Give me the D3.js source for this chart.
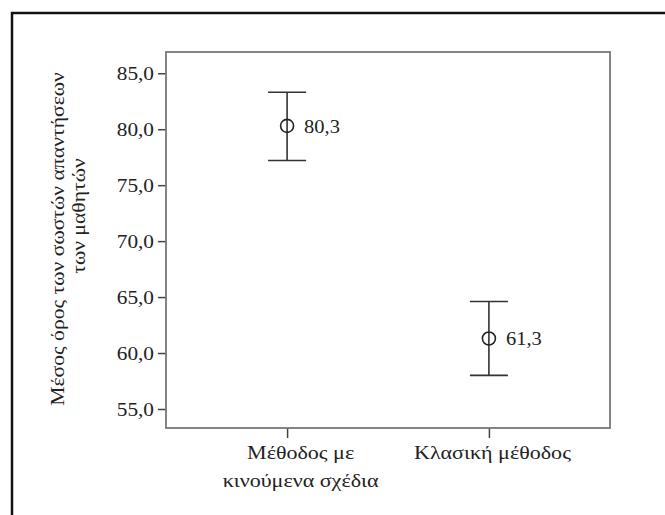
<!DOCTYPE html>
<html>
<head>
<meta charset="utf-8">
<script src="https://cdn.jsdelivr.net/npm/d3@7"></script>
<style>
  body { margin: 0; background: #fff; }
</style>
</head>
<body>
<svg id="chart" width="665" height="515"></svg>
<script>
// values
const CATEGORIES = ["Μέθοδος με κινούμενα σχέδια", "Κλασική μέθοδος"];
const CATEGORY_LINES = [["Μέθοδος με", "κινούμενα σχέδια"], ["Κλασική μέθοδος"]];
const MEANS = [80.3, 61.3];
const LOWER = [77.2, 58.0];
const UPPER = [83.3, 64.6];
const Y_TICKS = [55, 60, 65, 70, 75, 80, 85];
const Y_TITLE = ["Μέσος όρος των σωστών απαντήσεων", "των μαθητών"];

const FONT = "'Liberation Serif', 'Times New Roman', Tinos, serif";
const svg = d3.select('#chart').attr('font-family', FONT);
const comma = v => d3.format('.1f')(v).replace('.', ',');

// the original font runs a bit wider than Liberation Serif
function widen(sel, k) {
  sel.each(function () {
    const len = this.getComputedTextLength();
    d3.select(this).attr('textLength', len * k).attr('lengthAdjust', 'spacingAndGlyphs');
  });
}

// outer frame (runs off the right / bottom edge)
svg.append('rect')
    .attr('x', 12).attr('y', 13)
    .attr('width', 700).attr('height', 560)
    .attr('fill', 'none')
    .attr('stroke', '#111')
    .attr('stroke-width', 2.5);

const box = {left: 166, top: 52, right: 610, bottom: 428};

const x = d3.scalePoint()
    .domain(CATEGORIES)
    .range([box.left, box.right])
    .padding(0.6);

const y = d3.scaleLinear()
    .domain([53.3, 86.9])
    .range([box.bottom, box.top]);

// y axis
const yAxis = svg.append('g')
    .attr('transform', `translate(${box.left},0)`)
    .call(d3.axisLeft(y).tickValues(Y_TICKS).tickFormat(comma).tickSize(8).tickPadding(4));
yAxis.attr('font-family', FONT);
yAxis.select('.domain').remove();
yAxis.selectAll('.tick line').attr('stroke', '#444').attr('stroke-width', 1.5);
yAxis.selectAll('.tick text').attr('font-size', 19).attr('fill', '#222').call(widen, 1.12);

// x axis
const xAxis = svg.append('g')
    .attr('transform', `translate(0,${box.bottom})`)
    .call(d3.axisBottom(x).tickSize(10).tickFormat(''));
xAxis.attr('font-family', FONT);
xAxis.select('.domain').remove();
xAxis.selectAll('.tick line').attr('stroke', '#444').attr('stroke-width', 1.5);

const LABEL_SHIFT = [13, 3];
xAxis.selectAll('.tick').each(function (d, i) {
  const t = d3.select(this).append('text')
      .attr('text-anchor', 'middle')
      .attr('font-size', 19)
      .attr('fill', '#222');
  CATEGORY_LINES[i].forEach((line, j) => {
    t.append('tspan')
        .attr('x', LABEL_SHIFT[i])
        .attr('y', 31 + j * 28)
        .text(line);
  });
});
xAxis.selectAll('tspan').call(widen, 1.16);

// plot box
svg.append('rect')
    .attr('x', box.left).attr('y', box.top)
    .attr('width', box.right - box.left).attr('height', box.bottom - box.top)
    .attr('fill', 'none')
    .attr('stroke', '#777')
    .attr('stroke-width', 1.8);

// y title
const title = svg.append('text')
    .attr('transform', 'rotate(-90)')
    .attr('font-size', 19)
    .attr('fill', '#222')
    .attr('text-anchor', 'middle');
title.append('tspan').attr('x', -239).attr('y', 64).text(Y_TITLE[0]);
title.append('tspan').attr('x', -216).attr('y', 85).text(Y_TITLE[1]);
title.selectAll('tspan').call(widen, 1.14);

// error bars
const CAP = 19;
const bars = svg.selectAll('.err')
    .data(CATEGORIES)
    .enter()
    .append('g')
    .attr('class', 'err');

bars.append('line')
    .attr('x1', d => x(d)).attr('x2', d => x(d))
    .attr('y1', (d, i) => y(UPPER[i])).attr('y2', (d, i) => y(LOWER[i]))
    .attr('stroke', '#333').attr('stroke-width', 1.6);

bars.append('line')
    .attr('x1', d => x(d) - CAP).attr('x2', d => x(d) + CAP)
    .attr('y1', (d, i) => y(UPPER[i])).attr('y2', (d, i) => y(UPPER[i]))
    .attr('stroke', '#333').attr('stroke-width', 1.6);

bars.append('line')
    .attr('x1', d => x(d) - CAP).attr('x2', d => x(d) + CAP)
    .attr('y1', (d, i) => y(LOWER[i])).attr('y2', (d, i) => y(LOWER[i]))
    .attr('stroke', '#333').attr('stroke-width', 1.6);

bars.append('circle')
    .attr('cx', d => x(d))
    .attr('cy', (d, i) => y(MEANS[i]))
    .attr('r', 6.5)
    .attr('fill', 'none')
    .attr('stroke', '#222')
    .attr('stroke-width', 1.6);

bars.append('text')
    .attr('x', d => x(d) + 17)
    .attr('y', (d, i) => y(MEANS[i]) + 7)
    .attr('font-size', 19)
    .attr('fill', '#222')
    .text((d, i) => comma(MEANS[i]))
    .call(widen, 1.08);
</script>
</body>
</html>
